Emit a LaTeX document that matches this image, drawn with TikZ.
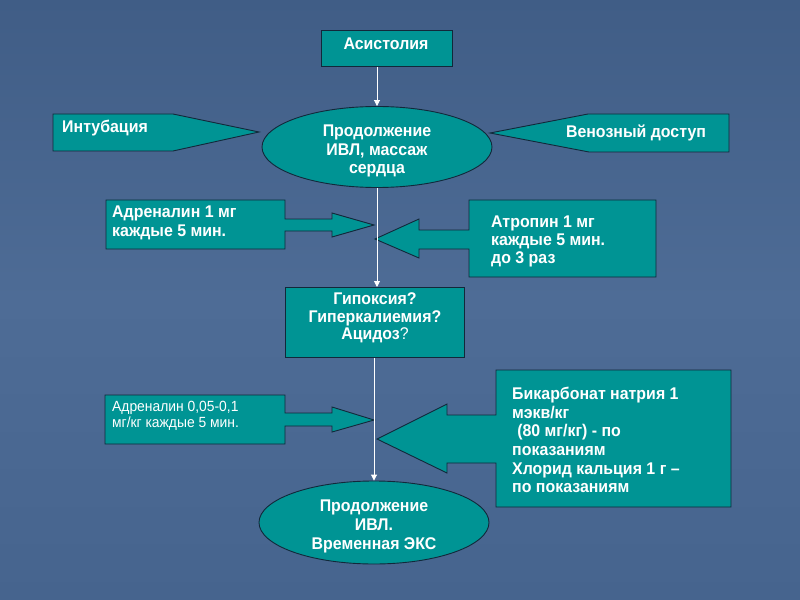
\documentclass[tikz,border=0pt]{standalone}
\usepackage{fontspec}
\setmainfont{Liberation Sans}[FakeStretch=0.94]
\usetikzlibrary{shapes.geometric,arrows.meta}
\definecolor{bgtop}{RGB}{64,93,134}
\definecolor{bgmid}{RGB}{78,108,150}
\definecolor{bgbot}{RGB}{70,100,142}
\definecolor{tealfill}{RGB}{0,148,148}
\definecolor{edgecol}{RGB}{18,40,58}
\begin{document}
\begin{tikzpicture}[x=1bp,y=-1bp,
  shp/.style={draw=edgecol, fill=tealfill, line width=0.9bp},
  rbox/.style={shp, rectangle, anchor=north west, inner sep=0pt},
  ebox/.style={shp, ellipse, inner sep=0pt, minimum width=230bp, minimum height=81bp},
  big/.style={text=white, inner sep=0pt, font=\bfseries\fontsize{17}{18.6}\selectfont},
  small/.style={text=white, inner sep=0pt, font=\fontsize{14.8}{16.5}\selectfont},
  conn/.style={draw=white, line width=0.9bp, -{Triangle[width=6bp,length=6bp]}}
]
\useasboundingbox (0,0) rectangle (800,600);
\shade[top color=bgtop, bottom color=bgbot, middle color=bgmid] (0,0) rectangle (800,600);

% boxes
\node[rbox, minimum width=131bp, minimum height=36bp] (asys) at (321,30) {};
\node[big] (asyst) at (386,44) {Асистолия};

\node[ebox] (e1) at (377,147) {};
\node[big, align=center] (e1t) at (377,151) {Продолжение\\ИВЛ, массаж\\сердца};

\node[rbox, minimum width=179bp, minimum height=70bp] (hyp) at (285,287) {};
\node[big, align=center, font=\bfseries\fontsize{17}{17.6}\selectfont] (hypt) at (375,318) {Гипоксия?\\Гиперкалиемия?\\Ацидоз{\mdseries ?}};

\node[ebox, minimum height=83bp] (e2) at (374,522.5) {};
\node[big, align=center, font=\bfseries\fontsize{17}{19}\selectfont] (e2t) at (374,526) {Продолжение\\ИВЛ.\\Временная ЭКС};

% side callouts
\coordinate (intip) at (259,132);
\draw[shp] (53,114) -- (173,114) -- (intip) -- (173,151) -- (53,151) -- cycle;
\node[big, anchor=west] (intt) at (62,128) {Интубация};

\coordinate (vntip) at (490,133);
\draw[shp] (729,114) -- (588,114) -- (vntip) -- (589,152) -- (729,152) -- cycle;
\node[big] (vnt) at (636,133) {Венозный доступ};

% block arrows
\coordinate (a1tip) at (374,225);
\draw[shp] (106,200) -- (285,200) -- (285,219) -- (332,219) -- (332,213) -- (a1tip)
  -- (332,237) -- (332,231) -- (285,231) -- (285,249) -- (106,249) -- cycle;
\node[big, anchor=west, align=left, font=\bfseries\fontsize{17}{19.5}\selectfont] (a1t) at (112,223) {Адреналин 1 мг\\каждые 5 мин.};

\coordinate (attip) at (375,239);
\draw[shp] (469,200) -- (656,200) -- (656,277) -- (469,277) -- (469,249) -- (419,249)
  -- (419,258) -- (attip) -- (419,219) -- (419,230) -- (469,230) -- cycle;
\node[big, anchor=west, align=left, font=\bfseries\fontsize{17}{18}\selectfont] (att) at (491,241) {Атропин 1 мг\\каждые 5 мин.\\до 3 раз};

\coordinate (a2tip) at (374,420);
\draw[shp] (105,395) -- (285,395) -- (285,413) -- (332,413) -- (332,407) -- (a2tip)
  -- (332,432) -- (332,426) -- (285,426) -- (285,444) -- (105,444) -- cycle;
\node[small, anchor=west, align=left] (a2t) at (112,416) {Адреналин 0,05-0,1\\мг/кг каждые 5 мин.};

\coordinate (bktip) at (377,439);
\draw[shp] (496,370) -- (731,370) -- (731,507) -- (496,507) -- (496,463) -- (447,463)
  -- (447,473) -- (bktip) -- (447,404) -- (447,415) -- (496,415) -- cycle;
\node[big, anchor=west, align=left, font=\bfseries\fontsize{17}{18.8}\selectfont] (bkt) at (512,440)
  {Бикарбонат натрия 1\\мэкв/кг\\\hspace*{0.3em}(80 мг/кг) - по\\показаниям\\Хлорид кальция 1 г –\\по показаниям};

% connectors
\draw[conn] (asys.south -| e1.north) -- (e1.north);
\draw[conn] (e1.south) -- (e1.south |- hyp.north);
\draw[conn] (hyp.south -| e2.north) -- (e2.north);
\end{tikzpicture}
\end{document}
